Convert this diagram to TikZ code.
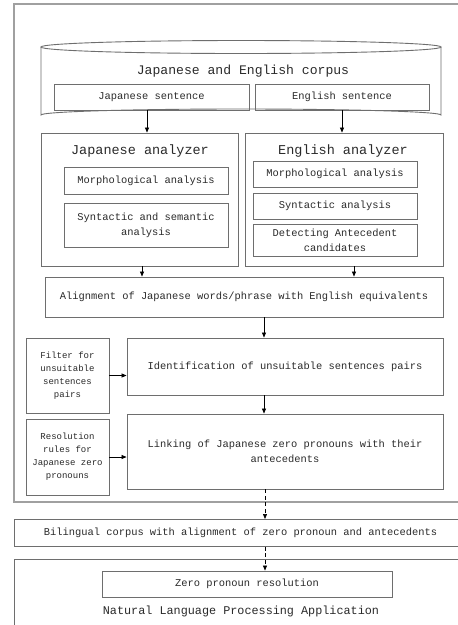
\documentclass[tikz,border=0pt]{standalone}
\usepackage{fontspec}
\setmainfont{Liberation Mono}
\usetikzlibrary{arrows.meta}
\definecolor{boxline}{HTML}{6E6E6E}
\definecolor{outline}{HTML}{A0A0A0}
\definecolor{txt}{HTML}{2A2A2A}
\tikzset{
  box/.style={draw=boxline, line width=0.9pt, text=txt, align=center, inner sep=0pt, font=\fontsize{10.4}{15}\selectfont},
  smallbox/.style={box, font=\fontsize{9}{13}\selectfont},
  outer/.style={draw=outline, line width=1.3pt},
  arr/.style={draw=black, line width=0.7pt, -{Triangle[length=5pt,width=4pt]}},
  darr/.style={arr, dash pattern=on 4pt off 2.5pt},
  title/.style={text=txt, inner sep=0pt}
}
\begin{document}
\begin{tikzpicture}[x=1pt,y=-1pt]
\clip (0,0) rectangle (458,625);
\fill[white] (0,0) rectangle (458,625);
% outer frames
\draw[outer] (480,4) -- (14,4) -- (14,502) -- (480,502);
\node[box, draw=boxline, minimum width=470pt, minimum height=27pt, anchor=north west] (bil) at (14,519) {};
\node[title, font=\fontsize{10.4}{12}\selectfont] (biltext) at (240.5,533) {Bilingual corpus with alignment of zero pronoun and antecedents};
\draw[outer, draw=boxline, line width=0.9pt] (480,559) -- (14,559) -- (14,640);
% cylinder
\draw[boxline, line width=0.9pt] (41,47) -- (41,115) arc[start angle=180, end angle=360, x radius=200, y radius=6] -- (441,47);
\draw[boxline, line width=0.9pt] (241,47) ellipse[x radius=200, y radius=6.5];
\node[title, font=\fontsize{13.1}{15}\selectfont] (corpus) at (243,71) {Japanese and English corpus};
\node[box, minimum width=195pt, minimum height=26pt] (jsent) at (151.5,97) {Japanese sentence};
\node[box, minimum width=174pt, minimum height=26pt] (esent) at (342,97) {English sentence};
% analyzers
\node[box, minimum width=197pt, minimum height=133pt] (janal) at (139.5,199.5) {};
\node[box, minimum width=198pt, minimum height=133pt] (eanal) at (344,199.5) {};
\node[title, font=\fontsize{13.5}{15}\selectfont] (jtitle) at (140,151) {Japanese analyzer};
\node[title, font=\fontsize{13.5}{15}\selectfont] (etitle) at (343,151) {English analyzer};
\node[box, minimum width=164pt, minimum height=27pt] (jmorph) at (146,180.5) {Morphological analysis};
\node[box, minimum width=164pt, minimum height=44pt] (jsyn) at (146,225) {Syntactic and semantic\\analysis};
\node[box, minimum width=164pt, minimum height=26pt] (emorph) at (335,174) {Morphological analysis};
\node[box, minimum width=164pt, minimum height=26pt] (esyn) at (335,206) {Syntactic analysis};
\node[box, minimum width=164pt, minimum height=32pt] (edet) at (335,240) {Detecting Antecedent\\candidates};
% alignment
\node[box, minimum width=398pt, minimum height=40pt] (align) at (244,297) {Alignment of Japanese words/phrase with English equivalents};
\node[box, minimum width=316pt, minimum height=57pt] (ident) at (285,366.5) {Identification of unsuitable sentences pairs};
\node[smallbox, minimum width=83pt, minimum height=75pt] (filter) at (67.5,375.5) {Filter for\\unsuitable\\sentences\\pairs};
\node[box, minimum width=316pt, minimum height=75pt] (link) at (285,451.5) {Linking of Japanese zero pronouns with their\\antecedents};
\node[smallbox, minimum width=83pt, minimum height=76pt] (resol) at (67.5,457) {Resolution\\rules for\\Japanese zero\\pronouns};
% bottom
\node[box, minimum width=290pt, minimum height=26pt] (zpr) at (247,584) {Zero pronoun resolution};
\node[title, font=\fontsize{11.8}{14}\selectfont] (nlp) at (241,611) {Natural Language Processing Application};
% arrows
\draw[arr] ([xshift=-4.5pt]jsent.south) -- ([xshift=-4.5pt]jsent.south |- janal.north);
\draw[arr] (esent.south) -- (esent.south |- eanal.north);
\draw[arr] ([xshift=2.5pt]janal.south) -- ([xshift=2.5pt]janal.south |- align.north);
\draw[arr] ([xshift=10pt]eanal.south) -- ([xshift=10pt]eanal.south |- align.north);
\draw[arr] ([xshift=20pt]align.south) -- ([xshift=20pt]align.south |- ident.north);
\draw[arr] (filter.east) -- (filter.east -| ident.west);
\draw[arr] ([xshift=-21pt]ident.south) -- ([xshift=-21pt]ident.south |- link.north);
\draw[arr] (resol.east) -- (resol.east -| link.west);
\draw[darr] ([xshift=-20pt]link.south) -- ([xshift=-20pt]link.south |- bil.north);
\draw[darr] ([xshift=-20pt]link.south |- bil.south) -- ([xshift=-20pt]link.south |- zpr.north);
\end{tikzpicture}
\end{document}
